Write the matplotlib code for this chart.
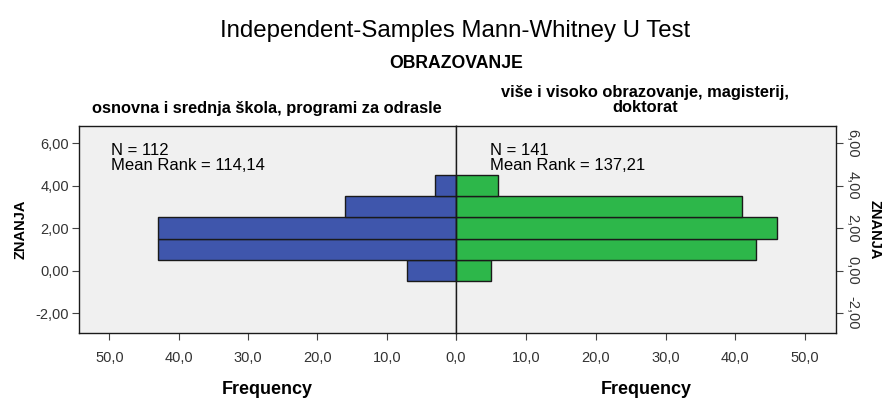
import matplotlib
matplotlib.use("Agg")
import matplotlib.pyplot as plt
import numpy as np

plt.rcParams['font.family'] = ['Liberation Sans', 'DejaVu Sans']

bin_centers = [0, 1, 2, 3, 4]
left_counts = [7, 43, 43, 16, 3]
right_counts = [5, 43, 46, 41, 6]
x_ticks = [0, 10, 20, 30, 40, 50]
x_ticklabels = ['0,0', '10,0', '20,0', '30,0', '40,0', '50,0']
y_ticks = [-2, 0, 2, 4, 6]
y_ticklabels = ['-2,00', '0,00', '2,00', '4,00', '6,00']
left_group = 'osnovna i srednja škola, programi za odrasle'
right_group = 'više i visoko obrazovanje, magisterij,\ndoktorat'
left_stats = 'N = 112\nMean Rank = 114,14'
right_stats = 'N = 141\nMean Rank = 137,21'

blue = '#3F56AC'
green = '#2DB74A'
bg = '#F0F0F0'
tick_col = '#333333'

fig = plt.figure(figsize=(8.88, 4.0), dpi=100)
axL = fig.add_axes([79/888, 1-333.3/400, 377/888, 207.6/400])
axR = fig.add_axes([456/888, 1-333.3/400, 380/888, 207.6/400])

xmax = 54.4
ylim = (-2.95, 6.82)

for ax in (axL, axR):
    ax.set_facecolor(bg)
    ax.set_ylim(*ylim)
    for s in ax.spines.values():
        s.set_color('#1a1a1a')
        s.set_linewidth(1.0)

axL.barh(bin_centers, left_counts, height=1.0, color=blue, edgecolor='#1a1a1a', linewidth=1.0)
axL.set_xlim(xmax, 0)
axR.barh(bin_centers, right_counts, height=1.0, color=green, edgecolor='#1a1a1a', linewidth=1.0)
axR.set_xlim(0, xmax)

axL.set_xticks(x_ticks)
axL.set_xticklabels([''] + x_ticklabels[1:], fontsize=10.5, color=tick_col)
axR.set_xticks(x_ticks)
axR.set_xticklabels(x_ticklabels, fontsize=10.5, color=tick_col)
for ax in (axL, axR):
    ax.tick_params(axis='x', direction='out', length=5, pad=8, color='#444444')

axL.set_yticks(y_ticks)
axL.set_yticklabels(y_ticklabels, fontsize=10.5, color=tick_col)
axL.tick_params(axis='y', direction='out', length=5, pad=2, color='#444444')

axR.yaxis.tick_right()
axR.set_yticks(y_ticks)
axR.set_yticklabels(y_ticklabels, fontsize=10.5, color=tick_col, rotation=-90, va='center', ha='left')
axR.tick_params(axis='y', direction='out', length=5, pad=2, color='#444444')
axR.spines['left'].set_zorder(5)

axL.set_ylabel('ZNANJA', fontsize=10.5, fontweight='bold', labelpad=6)
axR.yaxis.set_label_position('right')
axR.set_ylabel('ZNANJA', fontsize=10.5, fontweight='bold', rotation=-90, labelpad=16)

axL.set_xlabel('Frequency', fontsize=13, fontweight='bold', labelpad=11)
axR.set_xlabel('Frequency', fontsize=13, fontweight='bold', labelpad=11)

axL.text(49.8, 5.3, left_stats, fontsize=12, ha='left', va='center', linespacing=1.0)
axR.text(4.9, 5.3, right_stats, fontsize=12, ha='left', va='center', linespacing=1.0)

fig.text(455/888, 1-31/400, 'Independent-Samples Mann-Whitney U Test', fontsize=17.3, ha='center', va='center')
fig.text(456/888, 1-63/400, 'OBRAZOVANJE', fontsize=12.7, fontweight='bold', ha='center', va='center')
fig.text(267/888, 1-108/400, left_group, fontsize=11.8, fontweight='bold', ha='center', va='center')
fig.text(645/888, 1-100/400, right_group, fontsize=11.8, fontweight='bold', ha='center', va='center', linespacing=0.95)

fig.savefig('out.png', dpi=100)
